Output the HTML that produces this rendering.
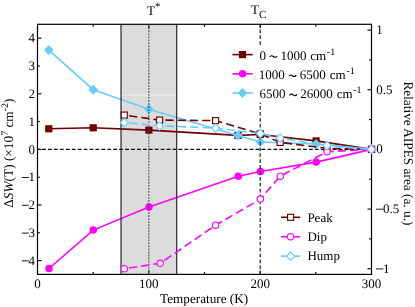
<!DOCTYPE html>
<html><head><meta charset="utf-8"><title>chart</title>
<style>html,body{margin:0;padding:0;background:#fff;}svg{display:block;will-change:transform;}text{font-family:"Liberation Serif",serif;fill:#000;text-rendering:geometricPrecision;}</style></head><body>
<svg width="415" height="307" viewBox="0 0 415 307">
<rect x="0" y="0" width="415" height="307" fill="#fff"/>
<rect x="121.0" y="24.3" width="55.7" height="250.1" fill="#dcdcdc"/>
<line x1="121.0" x2="176.7" y1="95.1" y2="95.1" stroke="#f2f2f2" stroke-width="0.8"/>
<rect x="37.5" y="24.3" width="334.0" height="250.1" fill="none" stroke="#000" stroke-width="1.2"/>
<line x1="93.2" x2="93.2" y1="274.4" y2="272.0" stroke="#000" stroke-width="1.1"/>
<line x1="93.2" x2="93.2" y1="24.3" y2="26.7" stroke="#000" stroke-width="1.1"/>
<line x1="148.8" x2="148.8" y1="274.4" y2="270.4" stroke="#000" stroke-width="1.1"/>
<line x1="148.8" x2="148.8" y1="24.3" y2="28.3" stroke="#000" stroke-width="1.1"/>
<line x1="204.5" x2="204.5" y1="274.4" y2="272.0" stroke="#000" stroke-width="1.1"/>
<line x1="204.5" x2="204.5" y1="24.3" y2="26.7" stroke="#000" stroke-width="1.1"/>
<line x1="260.2" x2="260.2" y1="274.4" y2="270.4" stroke="#000" stroke-width="1.1"/>
<line x1="260.2" x2="260.2" y1="24.3" y2="28.3" stroke="#000" stroke-width="1.1"/>
<line x1="315.8" x2="315.8" y1="274.4" y2="272.0" stroke="#000" stroke-width="1.1"/>
<line x1="315.8" x2="315.8" y1="24.3" y2="26.7" stroke="#000" stroke-width="1.1"/>
<line x1="37.5" x2="41.5" y1="260.6" y2="260.6" stroke="#000" stroke-width="1.1"/>
<line x1="37.5" x2="39.9" y1="232.8" y2="232.8" stroke="#000" stroke-width="1.1"/>
<line x1="37.5" x2="41.5" y1="205.0" y2="205.0" stroke="#000" stroke-width="1.1"/>
<line x1="37.5" x2="39.9" y1="177.2" y2="177.2" stroke="#000" stroke-width="1.1"/>
<line x1="37.5" x2="41.5" y1="149.4" y2="149.4" stroke="#000" stroke-width="1.1"/>
<line x1="37.5" x2="39.9" y1="121.6" y2="121.6" stroke="#000" stroke-width="1.1"/>
<line x1="37.5" x2="41.5" y1="93.8" y2="93.8" stroke="#000" stroke-width="1.1"/>
<line x1="37.5" x2="39.9" y1="66.0" y2="66.0" stroke="#000" stroke-width="1.1"/>
<line x1="37.5" x2="41.5" y1="38.2" y2="38.2" stroke="#000" stroke-width="1.1"/>
<line x1="371.5" x2="367.5" y1="268.8" y2="268.8" stroke="#000" stroke-width="1.1"/>
<line x1="371.5" x2="369.1" y1="238.9" y2="238.9" stroke="#000" stroke-width="1.1"/>
<line x1="371.5" x2="367.5" y1="209.1" y2="209.1" stroke="#000" stroke-width="1.1"/>
<line x1="371.5" x2="369.1" y1="179.2" y2="179.2" stroke="#000" stroke-width="1.1"/>
<line x1="371.5" x2="367.5" y1="149.4" y2="149.4" stroke="#000" stroke-width="1.1"/>
<line x1="371.5" x2="369.1" y1="119.6" y2="119.6" stroke="#000" stroke-width="1.1"/>
<line x1="371.5" x2="367.5" y1="89.7" y2="89.7" stroke="#000" stroke-width="1.1"/>
<line x1="371.5" x2="369.1" y1="59.9" y2="59.9" stroke="#000" stroke-width="1.1"/>
<line x1="371.5" x2="367.5" y1="30.1" y2="30.1" stroke="#000" stroke-width="1.1"/>
<polyline points="48.8,128.8 93.2,127.8 148.9,130.1 238.0,135.4 260.3,134.5 316.1,140.9 371.5,149.4" fill="none" stroke="#700000" stroke-width="1.6"/>
<rect x="45.20" y="125.20" width="7.2" height="7.2" fill="#700000"/>
<rect x="89.60" y="124.20" width="7.2" height="7.2" fill="#700000"/>
<rect x="145.30" y="126.50" width="7.2" height="7.2" fill="#700000"/>
<rect x="234.40" y="131.80" width="7.2" height="7.2" fill="#700000"/>
<rect x="256.70" y="130.90" width="7.2" height="7.2" fill="#700000"/>
<rect x="312.50" y="137.30" width="7.2" height="7.2" fill="#700000"/>
<rect x="367.90" y="145.80" width="7.2" height="7.2" fill="#700000"/>
<polyline points="49.0,268.5 93.3,230.1 149.0,206.9 238.3,176.2 260.4,171.5 316.2,162.1 371.5,149.4" fill="none" stroke="#ff00ff" stroke-width="1.6"/>
<circle cx="49.00" cy="268.50" r="3.75" fill="#ff00ff"/>
<circle cx="93.30" cy="230.10" r="3.75" fill="#ff00ff"/>
<circle cx="149.00" cy="206.90" r="3.75" fill="#ff00ff"/>
<circle cx="238.30" cy="176.20" r="3.75" fill="#ff00ff"/>
<circle cx="260.40" cy="171.50" r="3.75" fill="#ff00ff"/>
<circle cx="316.20" cy="162.10" r="3.75" fill="#ff00ff"/>
<circle cx="371.50" cy="149.40" r="3.75" fill="#ff00ff"/>
<polyline points="48.8,50.1 93.2,89.7 148.9,109.3 238.0,135.4 260.3,142.0 316.1,144.0 371.5,149.4" fill="none" stroke="#66ccff" stroke-width="1.6"/>
<polygon points="48.80,45.05 53.60,50.10 48.80,55.15 44.00,50.10" fill="#66ccff"/>
<polygon points="93.20,84.65 98.00,89.70 93.20,94.75 88.40,89.70" fill="#66ccff"/>
<polygon points="148.90,104.25 153.70,109.30 148.90,114.35 144.10,109.30" fill="#66ccff"/>
<polygon points="238.00,130.35 242.80,135.40 238.00,140.45 233.20,135.40" fill="#66ccff"/>
<polygon points="260.30,136.95 265.10,142.00 260.30,147.05 255.50,142.00" fill="#66ccff"/>
<polygon points="316.10,138.95 320.90,144.00 316.10,149.05 311.30,144.00" fill="#66ccff"/>
<polygon points="371.50,144.35 376.30,149.40 371.50,154.45 366.70,149.40" fill="#66ccff"/>
<line x1="121.0" x2="121.0" y1="24.3" y2="274.4" stroke="#1e1e1e" stroke-width="1.15"/>
<line x1="176.7" x2="176.7" y1="24.3" y2="274.4" stroke="#1e1e1e" stroke-width="1.15"/>
<line x1="148.85" x2="148.85" y1="24.3" y2="274.4" stroke="#4a4a4a" stroke-width="1.1" stroke-dasharray="1.85 1.18"/>
<line x1="260.2" x2="260.2" y1="24.3" y2="274.4" stroke="#111" stroke-width="1.1" stroke-dasharray="3.75 2.15" stroke-dashoffset="0.8"/>
<line x1="37.5" x2="371.5" y1="149.4" y2="149.4" stroke="#000" stroke-width="1.1" stroke-dasharray="3.75 2.18" stroke-dashoffset="1.3"/>
<polyline points="124.3,115.1 159.6,120.1 215.6,120.6 260.3,133.9 280.1,142.4 327.0,148.3 371.5,149.4" fill="none" stroke="#700000" stroke-width="1.6" stroke-dasharray="8.15 4.07" stroke-dashoffset="7.3"/>
<rect x="121.27" y="112.07" width="6.050000000000001" height="6.050000000000001" fill="#fff" stroke="#700000" stroke-width="1.15"/>
<rect x="156.57" y="117.07" width="6.050000000000001" height="6.050000000000001" fill="#fff" stroke="#700000" stroke-width="1.15"/>
<rect x="212.57" y="117.57" width="6.050000000000001" height="6.050000000000001" fill="#fff" stroke="#700000" stroke-width="1.15"/>
<rect x="257.28" y="130.88" width="6.050000000000001" height="6.050000000000001" fill="#fff" stroke="#700000" stroke-width="1.15"/>
<rect x="277.08" y="139.38" width="6.050000000000001" height="6.050000000000001" fill="#fff" stroke="#700000" stroke-width="1.15"/>
<rect x="323.98" y="145.28" width="6.050000000000001" height="6.050000000000001" fill="#fff" stroke="#700000" stroke-width="1.15"/>
<rect x="368.48" y="146.38" width="6.050000000000001" height="6.050000000000001" fill="#fff" stroke="#700000" stroke-width="1.15"/>
<polyline points="124.3,268.7 160.2,263.3 215.6,225.2 260.4,199.1 280.2,176.2 327.0,151.7 371.5,149.4" fill="none" stroke="#ff00ff" stroke-width="1.6" stroke-dasharray="8.15 4.07" stroke-dashoffset="7.3"/>
<circle cx="124.30" cy="268.70" r="3.175" fill="#fff" stroke="#ff00ff" stroke-width="1.15"/>
<circle cx="160.20" cy="263.30" r="3.175" fill="#fff" stroke="#ff00ff" stroke-width="1.15"/>
<circle cx="215.60" cy="225.20" r="3.175" fill="#fff" stroke="#ff00ff" stroke-width="1.15"/>
<circle cx="260.40" cy="199.10" r="3.175" fill="#fff" stroke="#ff00ff" stroke-width="1.15"/>
<circle cx="280.20" cy="176.20" r="3.175" fill="#fff" stroke="#ff00ff" stroke-width="1.15"/>
<circle cx="327.00" cy="151.70" r="3.175" fill="#fff" stroke="#ff00ff" stroke-width="1.15"/>
<circle cx="371.50" cy="149.40" r="3.175" fill="#fff" stroke="#ff00ff" stroke-width="1.15"/>
<polyline points="124.3,122.6 159.6,125.8 215.6,128.1 260.3,133.6 280.1,138.2 327.0,145.6 371.5,149.4" fill="none" stroke="#66ccff" stroke-width="1.6" stroke-dasharray="8.15 4.07" stroke-dashoffset="7.3"/>
<polygon points="124.30,118.35 128.29,122.60 124.30,126.84 120.30,122.60" fill="#fff" stroke="#66ccff" stroke-width="1.15"/>
<polygon points="159.60,121.55 163.59,125.80 159.60,130.04 155.60,125.80" fill="#fff" stroke="#66ccff" stroke-width="1.15"/>
<polygon points="215.60,123.85 219.59,128.10 215.60,132.34 211.60,128.10" fill="#fff" stroke="#66ccff" stroke-width="1.15"/>
<polygon points="260.30,129.35 264.30,133.60 260.30,137.84 256.31,133.60" fill="#fff" stroke="#66ccff" stroke-width="1.15"/>
<polygon points="280.10,133.95 284.10,138.20 280.10,142.44 276.11,138.20" fill="#fff" stroke="#66ccff" stroke-width="1.15"/>
<polygon points="327.00,141.35 331.00,145.60 327.00,149.84 323.00,145.60" fill="#fff" stroke="#66ccff" stroke-width="1.15"/>
<polygon points="371.50,145.16 375.50,149.40 371.50,153.65 367.50,149.40" fill="#fff" stroke="#66ccff" stroke-width="1.15"/>
<text x="35" y="264.8" font-size="13" text-anchor="end">4</text>
<line x1="21.9" x2="28.8" y1="260.9" y2="260.9" stroke="#000" stroke-width="0.9"/>
<text x="35" y="237.0" font-size="13" text-anchor="end">3</text>
<line x1="21.9" x2="28.8" y1="233.1" y2="233.1" stroke="#000" stroke-width="0.9"/>
<text x="35" y="209.2" font-size="13" text-anchor="end">2</text>
<line x1="21.9" x2="28.8" y1="205.3" y2="205.3" stroke="#000" stroke-width="0.9"/>
<text x="35" y="181.4" font-size="13" text-anchor="end">1</text>
<line x1="21.9" x2="28.8" y1="177.5" y2="177.5" stroke="#000" stroke-width="0.9"/>
<text x="35" y="153.6" font-size="13" text-anchor="end">0</text>
<text x="35" y="125.8" font-size="13" text-anchor="end">1</text>
<text x="35" y="98.0" font-size="13" text-anchor="end">2</text>
<text x="35" y="70.2" font-size="13" text-anchor="end">3</text>
<text x="35" y="42.4" font-size="13" text-anchor="end">4</text>
<text x="376.3" y="34.0" font-size="13" text-anchor="start">1</text>
<text x="376.3" y="93.6" font-size="13" text-anchor="start">0.5</text>
<text x="376.3" y="153.3" font-size="13" text-anchor="start">0</text>
<line x1="376.0" x2="383.3" y1="209.2" y2="209.2" stroke="#000" stroke-width="0.9"/>
<text x="382.9" y="213.0" font-size="13" text-anchor="start">0.5</text>
<line x1="376.0" x2="383.3" y1="268.9" y2="268.9" stroke="#000" stroke-width="0.9"/>
<text x="382.9" y="272.6" font-size="13" text-anchor="start">1</text>
<text x="37.5" y="287.8" font-size="13" text-anchor="middle">0</text>
<text x="148.8" y="287.8" font-size="13" text-anchor="middle">100</text>
<text x="260.2" y="287.8" font-size="13" text-anchor="middle">200</text>
<text x="371.5" y="287.8" font-size="13" text-anchor="middle">300</text>
<text x="204.1" y="303.2" font-size="13.2" text-anchor="middle">Temperature (K)</text>
<text transform="translate(12.7,153.1) rotate(-90)" font-size="13.3" text-anchor="middle">Δ<tspan font-style="italic">SW</tspan>(T) (×10<tspan dy="-4.8" font-size="10">7</tspan><tspan dy="4.8"> cm</tspan><tspan dy="-4.8" font-size="10">-2</tspan><tspan dy="4.8">)</tspan></text>
<text transform="translate(403.5,153.4) rotate(90)" font-size="13.3" text-anchor="middle">Relative AIPES area (a. u.)</text>
<text x="147" y="15" font-size="13">T<tspan dy="-5.5" font-size="11">*</tspan></text>
<text x="251" y="13.9" font-size="13">T<tspan dy="3.9" font-size="11">C</tspan></text>
<rect x="228" y="45.5" width="138" height="57.2" fill="#fff"/>
<line x1="232.4" x2="252.7" y1="54.6" y2="54.6" stroke="#700000" stroke-width="1.6"/>
<rect x="238.90" y="51.00" width="7.2" height="7.2" fill="#700000"/>
<text x="259.4" y="59.6" font-size="13">0</text>
<path d="M269.60,57.05 C270.70,55.25 272.20,55.60 273.30,56.50 S275.90,57.75 277.00,55.95" fill="none" stroke="#000" stroke-width="1.15"/>
<text x="280.4" y="59.6" font-size="13">1000</text>
<text x="310.2" y="59.6" font-size="13">cm</text>
<text x="326.8" y="54.6" font-size="10">-1</text>
<line x1="232.4" x2="252.7" y1="73.8" y2="73.8" stroke="#ff00ff" stroke-width="1.6"/>
<circle cx="242.50" cy="73.80" r="3.75" fill="#ff00ff"/>
<text x="258.8" y="78.8" font-size="13">1000</text>
<path d="M288.90,76.25 C290.00,74.45 291.50,74.80 292.60,75.70 S295.20,76.95 296.30,75.15" fill="none" stroke="#000" stroke-width="1.15"/>
<text x="299.7" y="78.8" font-size="13">6500</text>
<text x="329.7" y="78.8" font-size="13">cm</text>
<text x="346.4" y="73.8" font-size="10">-1</text>
<line x1="232.4" x2="252.7" y1="93.0" y2="93.0" stroke="#66ccff" stroke-width="1.6"/>
<polygon points="242.50,87.95 247.30,93.00 242.50,98.05 237.70,93.00" fill="#66ccff"/>
<text x="259.4" y="98.0" font-size="13">6500</text>
<path d="M289.50,95.45 C290.60,93.65 292.10,94.00 293.20,94.90 S295.80,96.15 296.90,94.35" fill="none" stroke="#000" stroke-width="1.15"/>
<text x="300.2" y="98.0" font-size="13">26000</text>
<text x="336.8" y="98.0" font-size="13">cm</text>
<text x="353.2" y="93.0" font-size="10">-1</text>
<line x1="281" x2="300.2" y1="217.3" y2="217.3" stroke="#700000" stroke-width="1.6"/>
<rect x="287.58" y="214.28" width="6.050000000000001" height="6.050000000000001" fill="#fff" stroke="#700000" stroke-width="1.15"/>
<text x="307.4" y="221.6" font-size="13">Peak</text>
<line x1="281" x2="300.2" y1="236.7" y2="236.7" stroke="#ff00ff" stroke-width="1.6"/>
<circle cx="290.60" cy="236.70" r="3.175" fill="#fff" stroke="#ff00ff" stroke-width="1.15"/>
<text x="307.4" y="241.0" font-size="13">Dip</text>
<line x1="281" x2="300.2" y1="256.1" y2="256.1" stroke="#66ccff" stroke-width="1.6"/>
<polygon points="290.60,251.86 294.60,256.10 290.60,260.35 286.61,256.10" fill="#fff" stroke="#66ccff" stroke-width="1.15"/>
<text x="307.4" y="260.4" font-size="13">Hump</text>
</svg></body></html>
